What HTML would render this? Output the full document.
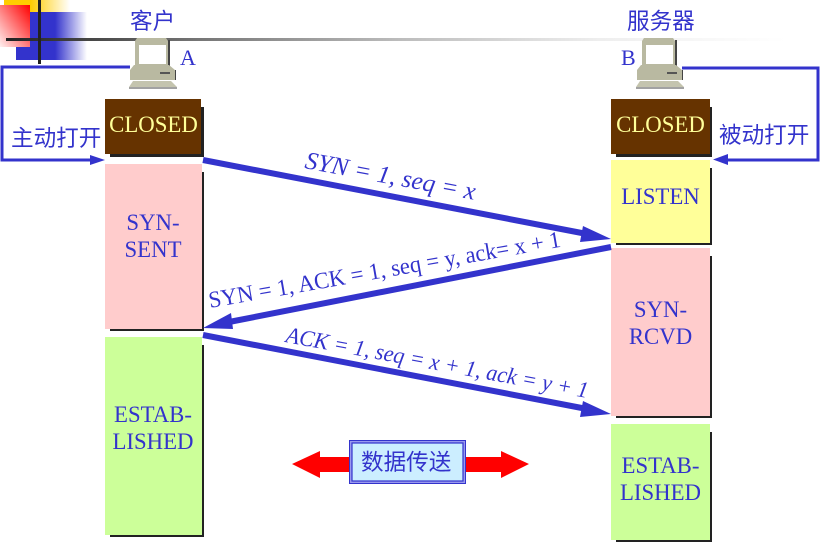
<!DOCTYPE html>
<html>
<head>
<meta charset="utf-8">
<style>
html,body{margin:0;padding:0;background:#fff;width:827px;height:542px;overflow:hidden}
svg{display:block}
.s{font-family:"Liberation Serif",serif;font-size:22.8px;fill:#3333cc;text-anchor:middle}
.c{font-family:"WenQuanYi Zen Hei","Noto Sans CJK SC",sans-serif;font-size:22.6px;fill:#3333cc}
.l{font-family:"Liberation Serif",serif;fill:#3333cc}
</style>
</head>
<body>
<svg width="827" height="542" viewBox="0 0 827 542" xmlns="http://www.w3.org/2000/svg">
<defs>
<linearGradient id="gy" x1="0" x2="1" y1="0" y2="0"><stop offset="0.4" stop-color="#ffcc00"/><stop offset="1" stop-color="#ffcc00" stop-opacity="0"/></linearGradient>
<linearGradient id="gb" x1="0" x2="1" y1="0" y2="0"><stop offset="0.55" stop-color="#3333cc"/><stop offset="1" stop-color="#3333cc" stop-opacity="0"/></linearGradient>
<linearGradient id="gr" x1="1" x2="0" y1="0" y2="1"><stop offset="0" stop-color="#ff0000"/><stop offset="1" stop-color="#fff0f0"/></linearGradient>
<linearGradient id="gl" x1="0" x2="1" y1="0" y2="0"><stop offset="0" stop-color="#222"/><stop offset="0.25" stop-color="#777"/><stop offset="0.5" stop-color="#bbb"/><stop offset="0.76" stop-color="#eee"/><stop offset="1" stop-color="#fff"/></linearGradient>
<g id="pc">
<rect x="39" y="2" width="2" height="26" fill="#444"/>
<path d="M8 0H37L39 3V28H6V3Z" fill="#b9b9a1"/>
<rect x="10" y="7" width="27" height="19" fill="#fff"/>
<path d="M5 27H40L46 32V42H1V32Z" fill="#b9b9a1"/>
<rect x="31" y="34" width="10" height="2" fill="#555"/>
<path d="M4 43H42L48 49H0Z" fill="#c4c4ae"/>
<path d="M0 50H48" stroke="#444" stroke-width="1"/>
<rect x="46" y="32" width="1" height="10" fill="#444"/>
</g>
</defs>

<rect x="4" y="0" width="66" height="12" fill="url(#gy)"/>
<rect x="16" y="12" width="71" height="48" fill="url(#gb)"/>
<rect x="0" y="5" width="30" height="42" fill="url(#gr)"/>
<rect x="6" y="38" width="780" height="3" fill="url(#gl)"/>
<rect x="38" y="0" width="3" height="64" fill="#222"/>

<text class="c" x="130" y="29">客户</text>
<text class="c" x="627" y="29">服务器</text>
<text x="180" y="65" font-family="'Liberation Serif',serif" font-size="22" fill="#3333cc">A</text>
<text x="621" y="65" font-family="'Liberation Serif',serif" font-size="22" fill="#3333cc">B</text>

<use href="#pc" x="129" y="38"/>
<use href="#pc" x="636" y="38"/>

<!-- loops -->
<path d="M130 67H2V160H92" fill="none" stroke="#3333cc" stroke-width="3"/>
<path d="M105 160L90 155V165Z" fill="#3333cc"/>
<path d="M682 68H818V160H726" fill="none" stroke="#3333cc" stroke-width="3"/>
<path d="M713 159.500L728 154V165Z" fill="#3333cc"/>
<text class="c" x="11" y="146">主动打开</text>
<text class="c" x="719" y="143">被动打开</text>

<!-- left column -->
<rect x="110" y="107" width="94" height="50" fill="#222"/>
<rect x="105" y="99" width="96" height="55" fill="#663300"/>
<rect x="110" y="172" width="94" height="159" fill="#222"/>
<rect x="105" y="164" width="97" height="165" fill="#ffcccc"/>
<rect x="110" y="345" width="94" height="192" fill="#222"/>
<rect x="105" y="337" width="97" height="198" fill="#ccff99"/>

<!-- right column -->
<rect x="616" y="107" width="96" height="50" fill="#222"/>
<rect x="611" y="99" width="99" height="55" fill="#663300"/>
<rect x="616" y="168" width="96" height="77" fill="#222"/>
<rect x="611" y="160" width="99" height="83" fill="#ffff99"/>
<rect x="616" y="256" width="96" height="162" fill="#222"/>
<rect x="611" y="248" width="99" height="168" fill="#ffcccc"/>
<rect x="616" y="432" width="96" height="111" fill="#222"/>
<rect x="611" y="424" width="99" height="116" fill="#ccff99"/>

<text class="s" x="153.500" y="132" style="fill:#ffff99">CLOSED</text>
<text class="s" x="660.500" y="132" style="fill:#ffff99">CLOSED</text>
<text class="s" x="153" y="230">SYN-</text>
<text class="s" x="153" y="257">SENT</text>
<text class="s" x="153" y="422">ESTAB-</text>
<text class="s" x="153" y="449">LISHED</text>
<text class="s" x="660.500" y="204">LISTEN</text>
<text class="s" x="660.500" y="317">SYN-</text>
<text class="s" x="660.500" y="344">RCVD</text>
<text class="s" x="660.500" y="473">ESTAB-</text>
<text class="s" x="660.500" y="500">LISHED</text>

<!-- handshake arrows -->
<path d="M203 160L587 234" stroke="#3333cc" stroke-width="6" fill="none"/>
<path d="M611 239L583 226L580 242Z" fill="#3333cc"/>
<path d="M611 247L229 322" stroke="#3333cc" stroke-width="6" fill="none"/>
<path d="M203 328L231 313L233 329Z" fill="#3333cc"/>
<path d="M203 335L587 409" stroke="#3333cc" stroke-width="6" fill="none"/>
<path d="M611 414L583 401L580 417Z" fill="#3333cc"/>

<text class="l" font-size="25" font-style="italic" transform="translate(304,168) rotate(10.600)" textLength="173" lengthAdjust="spacingAndGlyphs">SYN = 1, seq = x</text>
<text class="l" font-size="23.500" transform="translate(210,308) rotate(-9.900)" textLength="357" lengthAdjust="spacingAndGlyphs">SYN = 1, ACK = 1, seq = y, ack= x + 1</text>
<text class="l" font-size="23" font-style="italic" transform="translate(285,342) rotate(10.500)" textLength="307" lengthAdjust="spacingAndGlyphs">ACK = 1, seq = x + 1, ack = y + 1</text>

<!-- data transfer -->
<path d="M292 464L320 451V457H350V472H320V478Z" fill="#ff0000"/>
<path d="M529 464L501 451V457H465V472H501V478Z" fill="#ff0000"/>
<rect x="349.500" y="440.500" width="116" height="43" fill="#9999ee" stroke="#3333cc" stroke-width="1"/>
<rect x="352" y="443" width="111" height="38" fill="#cceeff" stroke="#3333cc" stroke-width="1.200"/>
<text class="c" x="361" y="470">数据传送</text>
</svg>
</body>
</html>
